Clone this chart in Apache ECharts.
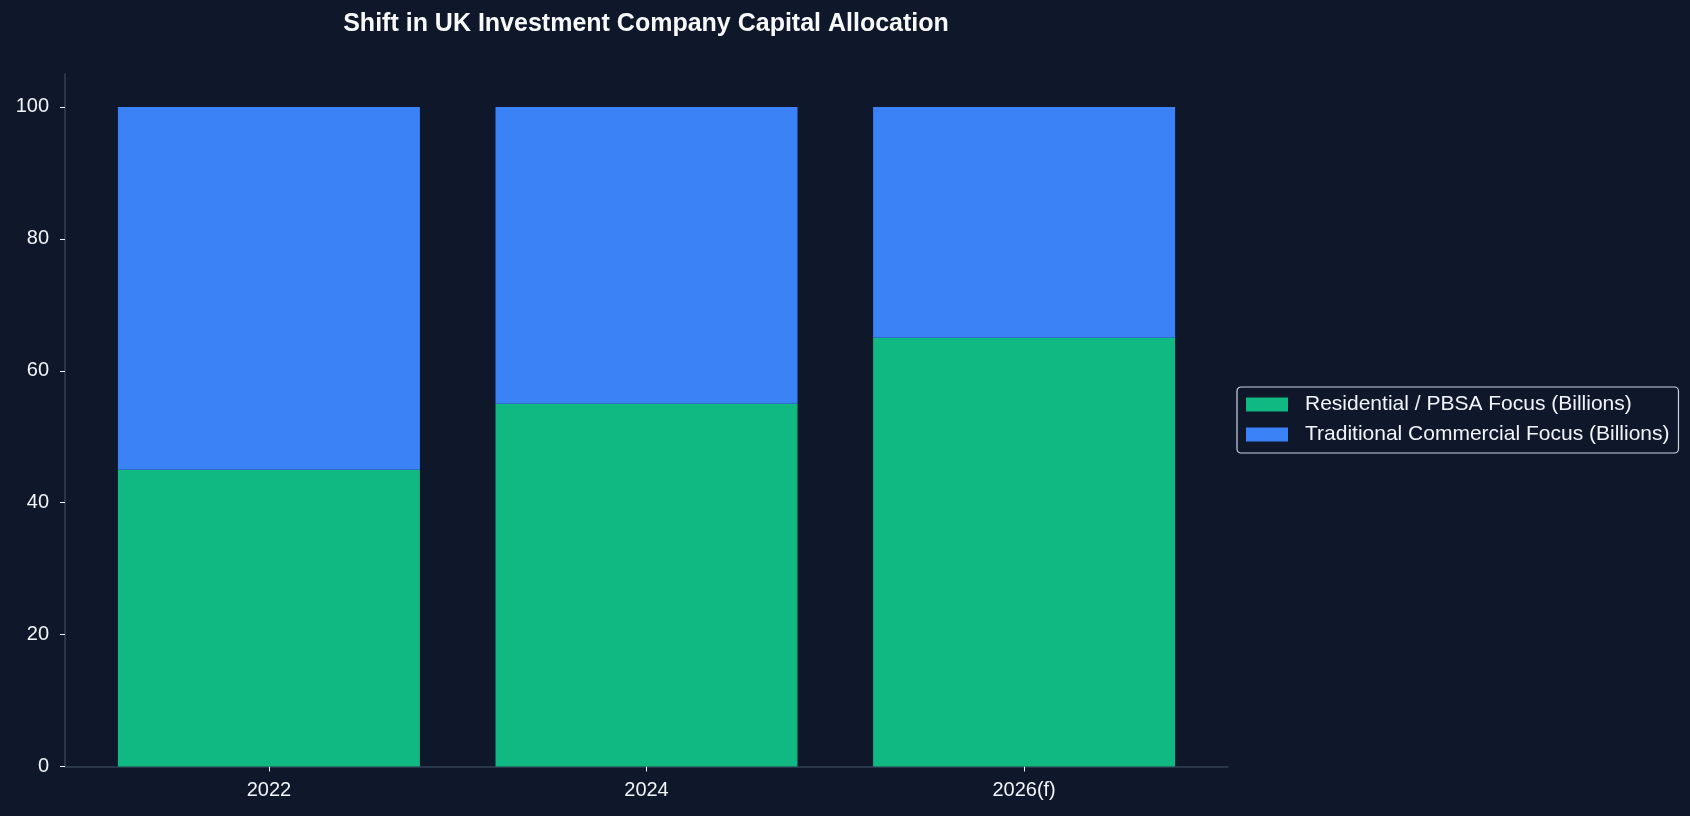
<!DOCTYPE html>
<html>
<head>
<meta charset="utf-8">
<script src="https://cdn.jsdelivr.net/npm/echarts@6/dist/echarts.min.js"></script>
<style>
  html, body { margin: 0; padding: 0; background: #0f172a; }
  #chart { width: 1690px; height: 816px; }
</style>
</head>
<body>
<div id="chart"></div>
<script>
const categories = ["2022", "2024", "2026(f)"];
const residential = [45, 55, 65];
const commercial = [55, 45, 35];
const yTicks = [0, 20, 40, 60, 80, 100];

const FONT = "'Liberation Sans', Arial, sans-serif";
const TEXT = "#f1f5f9";
const AXIS = "#334155";

const chart = echarts.init(document.getElementById("chart"), undefined, { renderer: "canvas" });
const idx = categories.map((_, i) => i);

// value first, category index second, so the stack runs on y
const barSeries = (name, values, color) => ({
  name,
  type: "bar",
  stack: "total",
  barWidth: 302,
  encode: { x: 1, y: 0 },
  data: values.map((v, i) => [v, i]),
  itemStyle: { color },
});

chart.setOption({
  backgroundColor: "#0f172a",
  animation: false,
  title: {
    text: "Shift in UK Investment Company Capital Allocation",
    left: 646,
    top: 12,
    padding: 0,
    textAlign: "center",
    textStyle: { color: "#f8fafc", fontSize: 25, fontWeight: "bold", fontFamily: FONT },
  },
  legend: {
    orient: "vertical",
    left: 1237,
    top: 387,
    padding: [7, 9, 8, 9],
    icon: "rect",
    itemWidth: 42,
    itemHeight: 14,
    itemGap: 9,
    borderColor: "#cbd5e1",
    borderWidth: 1.2,
    borderRadius: 4,
    textStyle: { color: TEXT, fontSize: 21, fontFamily: FONT, padding: [0, 0, 0, 12] },
    data: ["Residential / PBSA Focus (Billions)", "Traditional Commercial Focus (Billions)"],
  },
  grid: { left: 65, right: 462, top: 74, bottom: 49.5 },
  xAxis: {
    type: "value",
    min: -0.54,
    max: 2.54,
    splitLine: { show: false },
    axisLine: { show: true, lineStyle: { color: AXIS, width: 1.5 } },
    axisTick: { show: true, length: 5, customValues: idx, lineStyle: { color: TEXT } },
    axisLabel: {
      customValues: idx,
      formatter: (v) => categories[Math.round(v)],
      color: TEXT,
      fontSize: 20,
      fontFamily: FONT,
      margin: 14,
    },
  },
  yAxis: {
    type: "value",
    min: 0,
    max: 105,
    splitLine: { show: false },
    axisLine: { show: true, onZero: false, lineStyle: { color: AXIS, width: 1.5 } },
    axisTick: { show: true, length: 5, customValues: yTicks, lineStyle: { color: TEXT } },
    axisLabel: { customValues: yTicks, color: TEXT, fontSize: 20, fontFamily: FONT, margin: 16 },
  },
  series: [
    barSeries("Residential / PBSA Focus (Billions)", residential, "#10b981"),
    barSeries("Traditional Commercial Focus (Billions)", commercial, "#3b82f6"),
  ],
});
</script>
</body>
</html>
